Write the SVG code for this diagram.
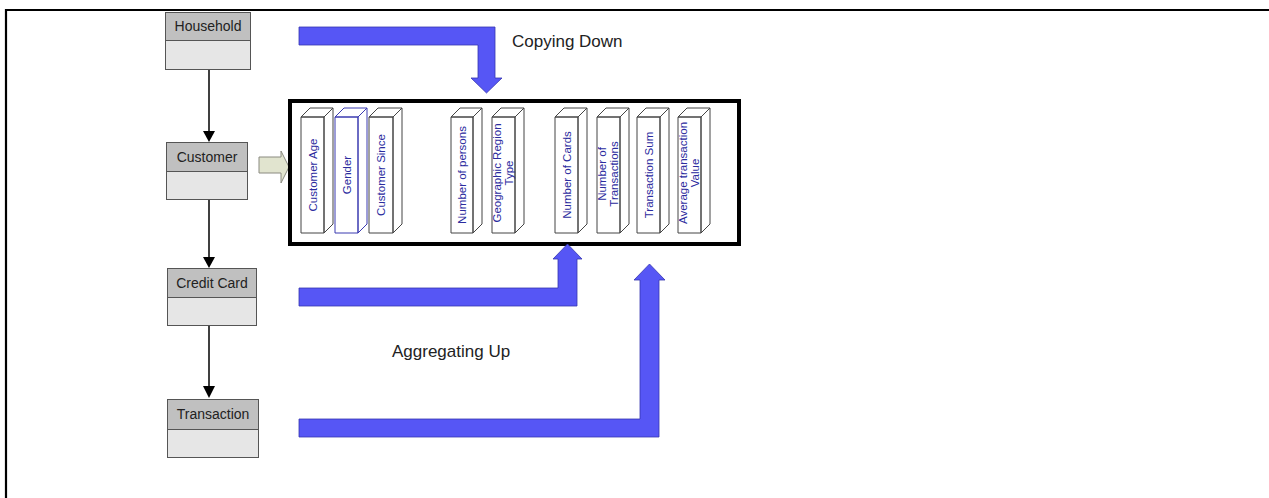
<svg xmlns="http://www.w3.org/2000/svg" width="1269" height="498" viewBox="0 0 1269 498">
<style>
.hdr{fill:#c0c0c0;stroke:#555;stroke-width:1}
.bdy{fill:#e6e6e6;stroke:#555;stroke-width:1}
.elab{font-family:"Liberation Sans",Arial,sans-serif;font-size:14px;fill:#222;text-anchor:middle}
.col path{fill:#fff;stroke:#444;stroke-width:1;stroke-linejoin:round}
.col.blue path{stroke:#3a3ab0}
.ctext{font-family:"Liberation Sans",Arial,sans-serif;font-size:11.5px;fill:#2b2b9e;text-anchor:middle}
.big{fill:#5656f5;stroke:#3636b0;stroke-width:0.8}
.note{font-family:"Liberation Sans",Arial,sans-serif;font-size:17px;fill:#222}
.conn{stroke:#000;stroke-width:1.5;fill:none}
</style>
<rect x="0" y="0" width="1269" height="498" fill="#fff"/>
<path d="M6,498 V10 H1269" fill="none" stroke="#000" stroke-width="2.2"/>

<g id="household">
<rect class="hdr" x="165.5" y="12.5" width="85" height="28"/>
<rect class="bdy" x="165.5" y="40.5" width="85" height="29"/>
<text class="elab" x="208" y="31">Household</text>
</g>
<g id="customer">
<rect class="hdr" x="166.5" y="142.5" width="81" height="29"/>
<rect class="bdy" x="166.5" y="171.5" width="81" height="28"/>
<text class="elab" x="207" y="162">Customer</text>
</g>
<g id="creditcard">
<rect class="hdr" x="167.5" y="268.5" width="89" height="29"/>
<rect class="bdy" x="167.5" y="297.5" width="89" height="28"/>
<text class="elab" x="212" y="288">Credit Card</text>
</g>
<g id="transaction">
<rect class="hdr" x="167.5" y="399.5" width="91" height="30"/>
<rect class="bdy" x="167.5" y="429.5" width="91" height="28"/>
<text class="elab" x="213" y="419">Transaction</text>
</g>

<g id="connectors">
<line class="conn" x1="209" y1="70" x2="209" y2="132"/>
<polygon points="203,131 215,131 209,142" fill="#000"/>
<line class="conn" x1="209" y1="200" x2="209" y2="258"/>
<polygon points="203,257 215,257 209,268" fill="#000"/>
<line class="conn" x1="209" y1="326" x2="209" y2="388"/>
<polygon points="203,386 215,386 209,398" fill="#000"/>
<polygon points="259,157 281,157 281,151 289,167 281,183 281,173 259,173" fill="#e1e4cf" stroke="#8a8a80" stroke-width="1"/>
</g>

<g id="attributes">
<rect x="290" y="101" width="449" height="143" fill="#fff" stroke="#000" stroke-width="4"/>
<g class="col" id="col-age"><path d="M301,117 l9,-9 h23 l-9,9 z M324,117 l9,-9 v116 l-9,9 z M301,117 h23 v116 h-23 z"/>
<text class="ctext" transform="translate(312.5,175) rotate(-90)" y="4">Customer Age</text></g>
<g class="col blue" id="col-gender"><path d="M335,117 l9,-9 h23 l-9,9 z M358,117 l9,-9 v116 l-9,9 z M335,117 h23 v116 h-23 z"/>
<text class="ctext" transform="translate(346.5,175) rotate(-90)" y="4">Gender</text></g>
<g class="col" id="col-since"><path d="M369,117 l9,-9 h24 l-9,9 z M393,117 l9,-9 v116 l-9,9 z M369,117 h24 v116 h-24 z"/>
<text class="ctext" transform="translate(381,175) rotate(-90)" y="4">Customer Since</text></g>
<g class="col" id="col-persons"><path d="M451,117 l9,-9 h22 l-9,9 z M473,117 l9,-9 v116 l-9,9 z M451,117 h22 v116 h-22 z"/>
<text class="ctext" transform="translate(462,175) rotate(-90)" y="4">Number of persons</text></g>
<g class="col" id="col-geo"><path d="M492,117 l9,-9 h23 l-9,9 z M515,117 l9,-9 v116 l-9,9 z M492,117 h23 v116 h-23 z"/>
<text class="ctext" transform="translate(503.5,173) rotate(-90)"><tspan x="0" y="-3">Geographic Region</tspan><tspan x="0" y="9">Type</tspan></text></g>
<g class="col" id="col-cards"><path d="M555,117 l9,-9 h23 l-9,9 z M578,117 l9,-9 v116 l-9,9 z M555,117 h23 v116 h-23 z"/>
<text class="ctext" transform="translate(566.5,175) rotate(-90)" y="4">Number of Cards</text></g>
<g class="col" id="col-ntrans"><path d="M597,117 l9,-9 h23 l-9,9 z M620,117 l9,-9 v116 l-9,9 z M597,117 h23 v116 h-23 z"/>
<text class="ctext" transform="translate(608.5,174) rotate(-90)"><tspan x="0" y="-3">Number of</tspan><tspan x="0" y="9">Transactions</tspan></text></g>
<g class="col" id="col-sum"><path d="M637,117 l9,-9 h23 l-9,9 z M660,117 l9,-9 v116 l-9,9 z M637,117 h23 v116 h-23 z"/>
<text class="ctext" transform="translate(648.5,175) rotate(-90)" y="4">Transaction Sum</text></g>
<g class="col" id="col-avg"><path d="M678,117 l9,-9 h23 l-9,9 z M701,117 l9,-9 v116 l-9,9 z M678,117 h23 v116 h-23 z"/>
<text class="ctext" transform="translate(689.5,173) rotate(-90)"><tspan x="0" y="-3">Average transaction</tspan><tspan x="0" y="9">Value</tspan></text></g>
</g>

<g id="flows">
<polygon class="big" points="299,27 495,27 495,78 502,78 486.5,93 471,78 478,78 478,45 299,45"/>
<polygon class="big" points="299,288 558,288 558,259 553,259 567.5,244 582,259 577,259 577,306 299,306"/>
<polygon class="big" points="299,419 640,419 640,280 634,280 649.5,264 665,280 659,280 659,437 299,437"/>
<text class="note" x="512" y="47">Copying Down</text>
<text class="note" x="392" y="357">Aggregating Up</text>
</g>
</svg>
